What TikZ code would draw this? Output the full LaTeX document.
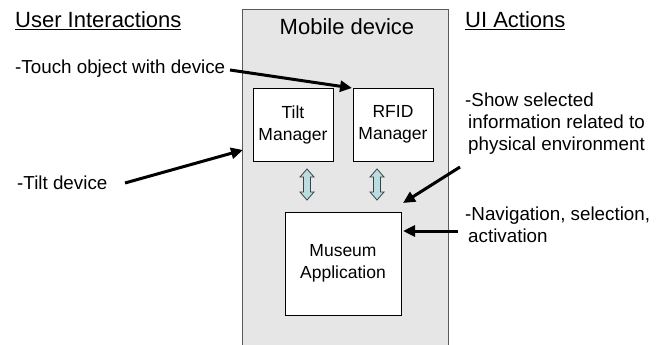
\documentclass[tikz,border=0pt]{standalone}
\usepackage{fontspec}
\setmainfont{Liberation Sans}
\usetikzlibrary{arrows.meta}
\definecolor{devgray}{RGB}{230,230,230}
\definecolor{devedge}{RGB}{90,90,90}
\definecolor{dblcyan}{RGB}{184,222,226}
\tikzset{
  heading/.style={anchor=base west, inner sep=0pt, font=\fontsize{22}{26}\selectfont},
  body/.style={anchor=base west, inner sep=0pt, align=left, font=\fontsize{18.8}{21.8}\selectfont},
  box/.style={draw=black, fill=white, line width=0.8pt, inner sep=0pt, align=center, font=\fontsize{17.5}{22}\selectfont},
  bigarrow/.style={line width=3pt, -{Triangle[length=12pt,width=11pt]}, shorten >=0pt},
  dbl/.style={draw=black!75, fill=dblcyan, line width=0.8pt, line join=miter}
}
\newcommand{\dblarr}[3]{% x, ytop, ybottom
  \filldraw[dbl] (#1,#2) -- (#1+7,#2+8) -- (#1+3.5,#2+8) -- (#1+3.5,#3-8) -- (#1+7,#3-8)
    -- (#1,#3) -- (#1-7,#3-8) -- (#1-3.5,#3-8) -- (#1-3.5,#2+8) -- (#1-7,#2+8) -- cycle;}
\begin{document}
\begin{tikzpicture}[x=1pt,y=-1pt]
\useasboundingbox (0,0) rectangle (658,345);
% device
\fill[devgray] (242,9) rectangle (448,346);
\draw[devedge, line width=0.8pt] (242,346) -- (242,9) -- (448,9) -- (448,346);
\node[heading, anchor=base] (mob) at (347,35) {Mobile device};
% boxes
\node[box, minimum width=80pt, minimum height=73pt] (tilt) at (293,124.5) {Tilt\\Manager};
\node[box, minimum width=80pt, minimum height=73pt] (rfid) at (393,124.5) {RFID\\Manager};
\node[box, minimum width=116pt, minimum height=103pt] (mus) at (343,263.5) {Museum\\Application};
% double arrows
\dblarr{307}{169}{200}
\dblarr{377}{169}{200}
% headings
\node[heading] (ui) at (15,28) {\underline{User Interactions}};
\node[heading] (ua) at (465,28) {\underline{UI Actions}};
% texts (base = baseline of last line)
\node[body] (touch) at (15,74) {-Touch object with device};
\node[body] (tiltd) at (17,189) {-Tilt device};
\node[body] (show) at (465,150) {-Show selected\\\hspace*{3pt}information related to\\\hspace*{3pt}physical environment};
\node[body] (nav) at (465,242) {-Navigation, selection,\\\hspace*{3pt}activation};
% arrow anchors
\coordinate (touchend) at (230,70);
\coordinate (touchtip) at (352,88);
\coordinate (tiltend) at (125,183);
\coordinate (tilttip) at (243,150);
\coordinate (showend) at (460,167);
\coordinate (showtip) at (403,203);
\coordinate (navend) at (458,231);
\coordinate (navtip) at (403,231);
\draw[bigarrow] (touchend) -- (touchtip);
\draw[bigarrow] (tiltend) -- (tilttip);
\draw[bigarrow] (showend) -- (showtip);
\draw[bigarrow] (navend) -- (navtip);
\end{tikzpicture}
\end{document}
